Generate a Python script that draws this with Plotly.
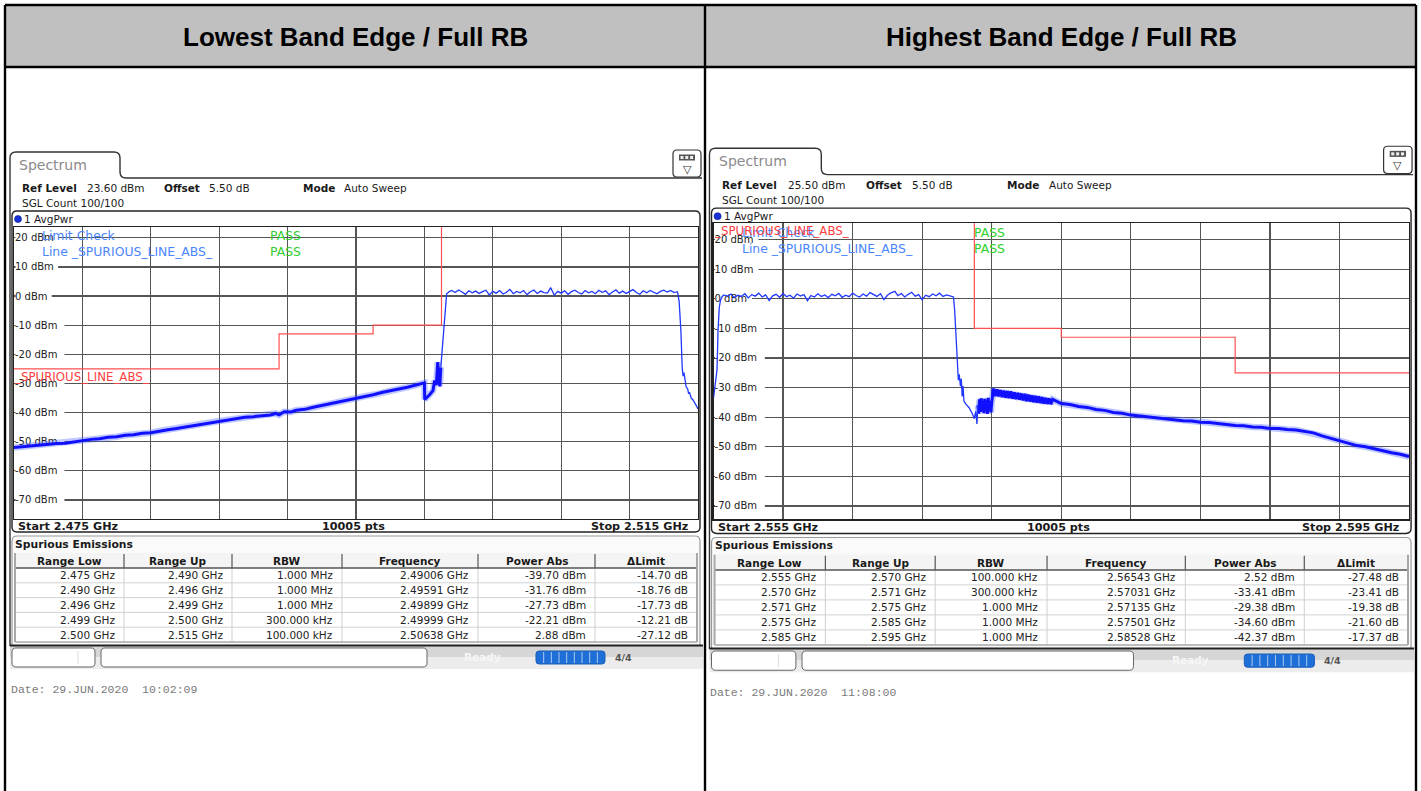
import plotly.graph_objects as go

W, H = 1421, 791

# ---------------- data ----------------
HEADERS = ["Lowest Band Edge / Full RB", "Highest Band Edge / Full RB"]
REF_LEVEL = ["23.60 dBm", "25.50 dBm"]
OFFSET = ["5.50 dB", "5.50 dB"]
MODE = ["Auto Sweep", "Auto Sweep"]
SGL_COUNT = ["100/100", "100/100"]
START_LABEL = ["Start 2.475 GHz", "Start 2.555 GHz"]
STOP_LABEL = ["Stop 2.515 GHz", "Stop 2.595 GHz"]
POINTS_LABEL = ["10005 pts", "10005 pts"]
DATE_LABEL = ["Date: 29.JUN.2020\u00a0\u00a010:02:09", "Date: 29.JUN.2020\u00a0\u00a011:08:00"]
X_RANGE = [[2.475, 2.515], [2.555, 2.595]]
X_DIV = 0.004
Y_RANGE = [[-76.4, 23.6], [-74.5, 25.5]]
Y_TICKS = [20, 10, 0, -10, -20, -30, -40, -50, -60, -70]
Y_TICK_TEXT = ["20 dBm", "10 dBm", "0 dBm", "-10 dBm", "-20 dBm", "-30 dBm", "-40 dBm", "-50 dBm", "-60 dBm", "-70 dBm"]
LIMIT_NAME = "_SPURIOUS_LINE_ABS_"

TABLE_COLS = ["Range Low", "Range Up", "RBW", "Frequency", "Power Abs", "\u0394Limit"]
L_RANGE_LOW = ["2.475 GHz", "2.490 GHz", "2.496 GHz", "2.499 GHz", "2.500 GHz"]
L_RANGE_UP = ["2.490 GHz", "2.496 GHz", "2.499 GHz", "2.500 GHz", "2.515 GHz"]
L_RBW = ["1.000 MHz", "1.000 MHz", "1.000 MHz", "300.000 kHz", "100.000 kHz"]
L_FREQ = ["2.49006 GHz", "2.49591 GHz", "2.49899 GHz", "2.49999 GHz", "2.50638 GHz"]
L_POWER = ["-39.70 dBm", "-31.76 dBm", "-27.73 dBm", "-22.21 dBm", "2.88 dBm"]
L_DLIMIT = ["-14.70 dB", "-18.76 dB", "-17.73 dB", "-12.21 dB", "-27.12 dB"]

R_RANGE_LOW = ["2.555 GHz", "2.570 GHz", "2.571 GHz", "2.575 GHz", "2.585 GHz"]
R_RANGE_UP = ["2.570 GHz", "2.571 GHz", "2.575 GHz", "2.585 GHz", "2.595 GHz"]
R_RBW = ["100.000 kHz", "300.000 kHz", "1.000 MHz", "1.000 MHz", "1.000 MHz"]
R_FREQ = ["2.56543 GHz", "2.57031 GHz", "2.57135 GHz", "2.57501 GHz", "2.58528 GHz"]
R_POWER = ["2.52 dBm", "-33.41 dBm", "-29.38 dBm", "-34.60 dBm", "-42.37 dBm"]
R_DLIMIT = ["-27.48 dB", "-23.41 dB", "-19.38 dB", "-21.60 dB", "-17.37 dB"]

# limit lines (GHz, dBm)
L_LIMIT_F = [2.475, 2.4905, 2.4905, 2.496, 2.496, 2.500, 2.500]
L_LIMIT_V = [-25, -25, -13, -13, -10, -10, 30]
R_LIMIT_F = [2.555, 2.570, 2.570, 2.575, 2.575, 2.585, 2.585, 2.595]
R_LIMIT_V = [30, 30, -10, -10, -13, -13, -25, -25]

# left trace: noisy slope part (GHz, dBm)
L_SLOPE_F = [2.4750, 2.4755, 2.4760, 2.4765, 2.4770, 2.4775, 2.4780, 2.4785, 2.4790, 2.4795,
             2.4800, 2.4805, 2.4810, 2.4815, 2.4820, 2.4825, 2.4830, 2.4835, 2.4840, 2.4845,
             2.4850, 2.4855, 2.4860, 2.4865, 2.4870, 2.4875, 2.4880, 2.4885, 2.4890, 2.4895,
             2.4900, 2.4903, 2.4905, 2.4908, 2.4912, 2.4915, 2.4920, 2.4925, 2.4930, 2.4935,
             2.4940, 2.4945, 2.4950, 2.4955, 2.4960, 2.4965, 2.4970, 2.4975, 2.4980, 2.4985,
             2.4990, 2.49902, 2.49915, 2.4993, 2.4995, 2.4996, 2.4997, 2.49978, 2.49985, 2.4999,
             2.49996]
L_SLOPE_V = [-52.0, -51.7, -51.6, -51.2, -51.0, -50.6, -50.5, -50.0, -49.7, -49.2,
             -49.0, -48.5, -48.3, -47.8, -47.6, -47.1, -46.9, -46.3, -45.9, -45.5,
             -45.0, -44.4, -44.0, -43.4, -42.9, -42.5, -42.1, -41.6, -41.4, -41.0,
             -40.8, -40.3, -40.8, -39.7, -39.8, -39.2, -38.9, -38.2, -37.6, -36.8,
             -36.4, -35.6, -35.0, -34.4, -33.9, -33.1, -32.6, -31.9, -31.3, -30.5,
             -29.8, -35.5, -34.8, -33.9, -32.5, -29.0, -30.5, -22.7, -28.0, -31.0,
             -24.5]
# left trace: channel (flat top) and roll-off
L_TOP_F = [2.49996, 2.50010, 2.50020, 2.50030, 2.50045,
           2.5006, 2.5008, 2.5010, 2.5012, 2.5014, 2.5016, 2.5018, 2.5020, 2.5022, 2.5024,
           2.5026, 2.5028, 2.5030, 2.5032, 2.5034, 2.5036, 2.5038, 2.5040, 2.5042, 2.5044,
           2.5046, 2.5048, 2.5050, 2.5052, 2.5054, 2.5056, 2.5058, 2.5060, 2.5062, 2.50638,
           2.5066, 2.5068, 2.5070, 2.5072, 2.5074, 2.5076, 2.5078, 2.5080, 2.5082, 2.5084,
           2.5086, 2.5088, 2.5090, 2.5092, 2.5094, 2.5096, 2.5098, 2.5100, 2.5102, 2.5104,
           2.5106, 2.5108, 2.5110, 2.5112, 2.5114, 2.5116, 2.5118, 2.5120, 2.5122, 2.5124,
           2.5126, 2.5128, 2.5130, 2.5132, 2.5134, 2.5136, 2.5138,
           2.51390, 2.51400, 2.51408, 2.51413, 2.51418, 2.51425, 2.5143, 2.5144, 2.51445, 2.5145,
           2.5146, 2.5147, 2.5148, 2.5149, 2.5150]
L_TOP_V = [-24.5, -14.0, -5.5, 0.8, 1.5,
           1.9, 1.2, 2.1, 1.4, 0.6, 1.8, 1.1, 1.7, 0.9, 1.5,
           2.0, 0.4, 1.6, 1.0, 1.9, 0.7, 1.3, 2.3, 0.8, 1.6,
           1.1, 1.9, 0.5, 1.5, 2.1, 0.9, 1.7, 1.2, 1.0, 2.88,
           0.3, 1.6, 1.0, 1.8, 0.6, 1.5, 2.0, 1.2, 0.7, 1.9,
           1.1, 1.6, 0.8, 2.0, 1.3, 1.8, 0.5, 1.4, 2.1, 1.0,
           1.7, 0.9, 1.5, 2.2, 1.2, 0.6, 1.8, 1.1, 1.9, 1.3,
           0.8, 1.6, 2.0, 1.4, 1.9, 1.2, 1.5,
           -2.0, -12.0, -25.0, -27.5, -26.3, -29.5, -31.0, -32.0, -33.5, -33.0,
           -35.0, -35.6, -36.5, -37.6, -38.8]

# right trace: rise, channel (flat top) and roll-off
R_TOP_F = [2.5550, 2.55505, 2.5551, 2.55515, 2.5552, 2.55526, 2.55533, 2.5554, 2.5555, 2.5556,
           2.5558, 2.5560, 2.5562, 2.5564, 2.5566, 2.5568, 2.5570, 2.5572, 2.5574, 2.5576,
           2.5578, 2.5580, 2.5582, 2.5584, 2.5586, 2.5588, 2.5590, 2.5592, 2.5594, 2.5596,
           2.5598, 2.5600, 2.5602, 2.5604, 2.5606, 2.5608, 2.5610, 2.5612, 2.5614, 2.5616,
           2.5618, 2.5620, 2.5622, 2.5624, 2.5626, 2.5628, 2.5630, 2.5632, 2.5634, 2.5636,
           2.5638, 2.5640, 2.5642, 2.5644, 2.5646, 2.5648, 2.5650, 2.5652, 2.56543, 2.5656,
           2.5658, 2.5660, 2.5662, 2.5664, 2.5666, 2.5668, 2.5670, 2.5672, 2.5674, 2.5676,
           2.5678, 2.5680, 2.5682, 2.5684, 2.5686,
           2.5688, 2.56887, 2.56895, 2.56902, 2.56908, 2.56913, 2.5692, 2.56925, 2.5693, 2.56935,
           2.5694, 2.5695, 2.5697, 2.5699, 2.5700, 2.57008, 2.57015, 2.5702]
R_TOP_V = [-33.5, -31.0, -28.5, -26.0, -24.0, -10.5, -3.0, -0.5, 0.8, 1.3,
           0.9, 1.6, 0.4, 1.2, 0.8, 1.7, 0.3, 1.4, 0.9, 1.9,
           0.6, 1.3, -0.6, 1.0, 1.5, 0.5, 1.8, 0.7, 1.2, 0.2,
           1.6, 0.9, 1.4, -0.7, 1.1, 0.6, 1.7, 0.8, 1.3, 0.4,
           1.5, 1.0, 1.8, 0.5, 1.2, 0.7, 1.9, 1.1, 0.6, 1.6,
           0.9, 2.1, 1.3, 0.8, 1.7, -0.3, 1.2, 2.0, 2.52, 1.1,
           1.8, 0.6, 1.5, 2.2, 0.9, 1.4, -0.4, 1.2, 0.7, 1.6,
           1.0, 1.9, 0.8, 1.3, 1.0,
           0.6, -4.0, -12.0, -20.0, -27.5, -25.5, -29.5, -27.0, -33.0, -29.5,
           -34.5, -35.5, -36.8, -39.0, -40.5, -38.0, -42.3, -36.0]
# right trace: noisy spurious part
R_BAND_F = [2.5702, 2.57025, 2.5703, 2.57035, 2.5704, 2.57045, 2.5705, 2.57055, 2.5706, 2.57065,
            2.5707, 2.57075, 2.5708, 2.57085, 2.5709, 2.57095, 2.5710,
            2.5711, 2.5712, 2.5713, 2.5714, 2.5715, 2.5716, 2.5717, 2.5718, 2.5719, 2.5720,
            2.5721, 2.5722, 2.5723, 2.5724, 2.5725, 2.5726, 2.5727, 2.5728, 2.5729, 2.5730,
            2.5731, 2.5732, 2.5733, 2.5734, 2.5735, 2.5736, 2.5737, 2.5738, 2.5739, 2.5740,
            2.5741, 2.5742, 2.5743, 2.5744, 2.5745,
            2.5750, 2.5755, 2.5760, 2.5765, 2.5770, 2.5775, 2.5780, 2.5785, 2.5790, 2.5795,
            2.5800, 2.5805, 2.5810, 2.5815, 2.5820, 2.5825, 2.5830, 2.5835, 2.5840, 2.5845,
            2.5850, 2.5855, 2.5860, 2.5865, 2.5870, 2.5875, 2.5880, 2.5885, 2.5890, 2.5895,
            2.5900, 2.5905, 2.5910, 2.5915, 2.5920, 2.5925, 2.5930, 2.5935, 2.5940, 2.5945,
            2.5950]
R_BAND_V = [-36.0, -38.8, -34.0, -38.2, -33.6, -37.9, -34.5, -38.6, -33.8, -37.5,
            -34.2, -38.9, -33.5, -37.8, -34.6, -38.4, -35.0,
            -30.3, -32.9, -30.6, -33.0, -30.9, -33.2, -31.0, -33.4, -31.2, -33.6,
            -31.3, -33.7, -31.6, -33.9, -31.8, -34.1, -32.0, -34.3, -32.1, -34.6,
            -32.4, -34.7, -32.6, -34.9, -32.8, -35.1, -33.0, -35.2, -33.2, -35.4,
            -33.5, -35.5, -33.7, -35.6, -34.0,
            -35.4, -35.7, -36.4, -36.7, -37.4, -37.7, -38.4, -38.7, -39.3, -39.6,
            -40.1, -40.3, -40.7, -40.8, -41.2, -41.3, -41.7, -41.8, -42.2, -42.4,
            -42.8, -42.9, -43.3, -43.4, -43.8, -43.8, -44.2, -44.3, -44.8, -45.3,
            -46.3, -47.1, -48.1, -48.8, -49.6, -50.0, -50.7, -51.3, -52.0, -52.5,
            -53.3]

PANELS = [
    dict(limit=(L_LIMIT_F, L_LIMIT_V), band=(L_SLOPE_F, L_SLOPE_V), top=(L_TOP_F, L_TOP_V),
         table=[L_RANGE_LOW, L_RANGE_UP, L_RBW, L_FREQ, L_POWER, L_DLIMIT], limit_label=(12.5, 376.5)),
    dict(limit=(R_LIMIT_F, R_LIMIT_V), band=(R_BAND_F, R_BAND_V), top=(R_TOP_F, R_TOP_V),
         table=[R_RANGE_LOW, R_RANGE_UP, R_RBW, R_FREQ, R_POWER, R_DLIMIT], limit_label=(13, 233.6)),
]

# ---------------- geometry helpers ----------------
TF = [(1.0, 0.0, 1.0, 0.0), (1.0168, 699.3, 1.0135, -5.75)]
PLOT_TOP = [227.3, 223.3]
PLOT_BOT = [518.6, 519.3]
PLOT_W = 684.0
SANS = "DejaVu Sans"


def X(p, x):
    return (TF[p][1] + TF[p][0] * x) / W


def Y(p, y):
    return 1 - (TF[p][3] + TF[p][2] * y) / H


shapes, anns = [], []


def line(p, x1, y1, x2, y2, color="#000", w=1.0, layer="above"):
    shapes.append(dict(type="line", xref="paper", yref="paper", x0=X(p, x1), y0=Y(p, y1),
                       x1=X(p, x2), y1=Y(p, y2), line=dict(color=color, width=w), layer=layer))


def rect(p, x1, y1, x2, y2, fill=None, lc=None, lw=1.0, layer="above"):
    shapes.append(dict(type="rect", xref="paper", yref="paper", x0=X(p, x1), y0=Y(p, y1),
                       x1=X(p, x2), y1=Y(p, y2), fillcolor=fill or "rgba(0,0,0,0)",
                       line=dict(color=lc or "rgba(0,0,0,0)", width=lw if lc else 0), layer=layer))


def pt(p, x, y):
    return f"{X(p, x):.6f},{Y(p, y):.6f}"


def rrect(p, x1, y1, x2, y2, r, fill=None, lc="#333", lw=1.0, corners=(1, 1, 1, 1), layer="above"):
    tl, tr, br, bl = [r * c for c in corners]
    d = (f"M {pt(p, x1 + tl, y1)} L {pt(p, x2 - tr, y1)} Q {pt(p, x2, y1)} {pt(p, x2, y1 + tr)} "
         f"L {pt(p, x2, y2 - br)} Q {pt(p, x2, y2)} {pt(p, x2 - br, y2)} "
         f"L {pt(p, x1 + bl, y2)} Q {pt(p, x1, y2)} {pt(p, x1, y2 - bl)} "
         f"L {pt(p, x1, y1 + tl)} Q {pt(p, x1, y1)} {pt(p, x1 + tl, y1)} Z")
    shapes.append(dict(type="path", xref="paper", yref="paper", path=d,
                       fillcolor=fill or "rgba(0,0,0,0)", line=dict(color=lc, width=lw), layer=layer))


def text(p, x, y, s, size=10.5, color="#1a1a1a", bold=False, anchor="left", family=SANS, bg=None):
    anns.append(dict(x=X(p, x), y=Y(p, y), xref="paper", yref="paper",
                     text=f"<b>{s}</b>" if bold else s, showarrow=False, xanchor=anchor,
                     yanchor="middle", font=dict(size=size, color=color, family=family),
                     bgcolor=bg, borderpad=0))


# ---------------- page table ----------------
rect(0, 5, 5, 1416, 67, fill="#c0c0c0", layer="below")
for (x1, y1, x2, y2) in [(5, 5, 1416, 5), (5, 67, 1416, 67), (5, 5, 5, 791), (1416, 5, 1416, 791), (705, 5, 705, 791)]:
    line(0, x1, y1, x2, y2, "#000", 2.4)
text(0, 355, 37, HEADERS[0], size=26, color="#000", bold=True, anchor="center", family="Liberation Sans")
text(0, 1061, 37, HEADERS[1], size=26, color="#000", bold=True, anchor="center", family="Liberation Sans")

fig = go.Figure()
COL_SEP = [15, 124, 232, 342, 478, 595, 697]
ROW_Y = [553, 568, 582.8, 597.6, 612.4, 627.2, 642]

for p, P in enumerate(PANELS):
    xs = "x" if p == 0 else "x2"
    ys = "y" if p == 0 else "y2"
    # traces
    fig.add_trace(go.Scatter(x=P["limit"][0], y=P["limit"][1], mode="lines", xaxis=xs, yaxis=ys,
                             line=dict(color="#ff5050", width=1.2), hoverinfo="skip", showlegend=False))
    fig.add_trace(go.Scatter(x=P["band"][0], y=P["band"][1], mode="lines", xaxis=xs, yaxis=ys,
                             line=dict(color="rgba(70,95,255,0.35)", width=6.5), hoverinfo="skip", showlegend=False))
    fig.add_trace(go.Scatter(x=P["band"][0], y=P["band"][1], mode="lines", xaxis=xs, yaxis=ys,
                             line=dict(color="#1010ff", width=3.0), hoverinfo="skip", showlegend=False))
    fig.add_trace(go.Scatter(x=P["top"][0], y=P["top"][1], mode="lines", xaxis=xs, yaxis=ys,
                             line=dict(color="#2038ff", width=1.3), hoverinfo="skip", showlegend=False))

    # white boxes behind the inside y labels (between grid and traces)
    span = X_RANGE[p][1] - X_RANGE[p][0]
    for v, lab in zip(Y_TICKS, Y_TICK_TEXT):
        shapes.append(dict(type="rect", xref=xs, yref=ys, layer="between",
                           x0=X_RANGE[p][0] + span * 1.5 / PLOT_W,
                           x1=X_RANGE[p][0] + span * (len(lab) * 6.35 + 6) / PLOT_W,
                           y0=v - 2.0, y1=v + 2.0, fillcolor="#ffffff", line=dict(width=0)))

    # tab + panel outline
    d = (f"M {pt(p, 10, 646)} L {pt(p, 10, 158)} Q {pt(p, 10, 152)} {pt(p, 16, 152)} "
         f"L {pt(p, 114, 152)} Q {pt(p, 120, 152)} {pt(p, 120, 158)} L {pt(p, 120, 172)} "
         f"Q {pt(p, 120, 178)} {pt(p, 126, 178)} L {pt(p, 702, 178)}")
    shapes.append(dict(type="path", xref="paper", yref="paper", path=d, line=dict(color="#333", width=1.4)))
    text(p, 18, 165, "Spectrum", size=14, color="#8a8a8a")
    # icon
    rrect(p, 673, 150, 701, 177, 4, fill="#fff", lc="#333", lw=1.2)
    rect(p, 679, 154.5, 695, 160.5, fill="#555")
    for k in range(3):
        rect(p, 680.5 + k * 4.8, 156, 683.5 + k * 4.8, 159, fill="#eee")
    text(p, 687, 169, "\u25bd", size=11, color="#333", anchor="center")

    # settings lines
    text(p, 21, 188, "Ref Level", bold=True)
    text(p, 86, 188, REF_LEVEL[p])
    text(p, 163, 188, "Offset", bold=True)
    text(p, 208, 188, OFFSET[p])
    text(p, 302, 188, "Mode", bold=True)
    text(p, 343, 188, MODE[p])
    text(p, 21, 203, "SGL Count " + SGL_COUNT[p])

    # plot box
    rrect(p, 12, 211, 700, 532, 5, lc="#222", lw=1.4)
    shapes.append(dict(type="circle", xref="paper", yref="paper", x0=X(p, 14.5), x1=X(p, 21.5),
                       y0=Y(p, 215.5), y1=Y(p, 222.5), fillcolor="#1830d8", line=dict(color="#0a1a90", width=0.6)))
    text(p, 23, 219, "1 AvgPwr")

    # limit check texts
    text(p, 41, 235.5, "Limit Check", color="#4a86ff", size=12.4)
    text(p, 41, 251, "Line " + LIMIT_NAME, color="#4a86ff", size=12.4)
    text(p, 269, 235.5, "PASS", color="#2fd02f", size=12.4)
    text(p, 269, 251, "PASS", color="#2fd02f", size=12.4)
    text(p, P["limit_label"][0], P["limit_label"][1], LIMIT_NAME, color="#ff4040", size=11.8)

    # start / stop row
    text(p, 17, 526, START_LABEL[p], bold=True, size=11.2)
    text(p, 353.5, 526, POINTS_LABEL[p], bold=True, anchor="center", size=11.2)
    text(p, 689, 526, STOP_LABEL[p], bold=True, anchor="right", size=11.2)

    # spurious table
    rrect(p, 12, 536, 700, 646, 5, fill="#fafafa", lc="#9a9a9a", lw=1.2, corners=(1, 1, 0, 0))
    text(p, 14, 544, "Spurious Emissions", bold=True, size=10.8)
    rect(p, COL_SEP[0], ROW_Y[0], COL_SEP[-1], ROW_Y[1], fill="#f4f4f4")
    rect(p, COL_SEP[0], ROW_Y[1], COL_SEP[-1], ROW_Y[-1], fill="#ffffff")
    for r in range(2, len(ROW_Y) - 1):
        line(p, COL_SEP[0], ROW_Y[r], COL_SEP[-1], ROW_Y[r], "#d2d2d2", 1)
    for c in range(1, len(COL_SEP) - 1):
        line(p, COL_SEP[c], ROW_Y[0] + 1, COL_SEP[c], ROW_Y[1], "#555", 1.2)
        line(p, COL_SEP[c], ROW_Y[1], COL_SEP[c], ROW_Y[-1], "#cfcfcf", 1)
    line(p, COL_SEP[0], ROW_Y[1], COL_SEP[-1], ROW_Y[1], "#555", 1.5)
    line(p, COL_SEP[0], ROW_Y[0], COL_SEP[0], ROW_Y[-1], "#a8a8a8", 2)
    line(p, COL_SEP[-1], ROW_Y[0], COL_SEP[-1], ROW_Y[-1], "#a8a8a8", 2)
    line(p, COL_SEP[0], ROW_Y[-1], COL_SEP[-1], ROW_Y[-1], "#a8a8a8", 1.5)
    for c, name in enumerate(TABLE_COLS):
        text(p, (COL_SEP[c] + COL_SEP[c + 1]) / 2, (ROW_Y[0] + ROW_Y[1]) / 2 + 0.5, name, bold=True, anchor="center")
        for r, val in enumerate(P["table"][c]):
            text(p, COL_SEP[c + 1] - 8, (ROW_Y[r + 1] + ROW_Y[r + 2]) / 2, val, anchor="right", color="#222")

    # status bar
    rect(p, 10, 646, 703, 657, fill="#d6d6d6")
    rect(p, 10, 657, 703, 669, fill="#ececec")
    line(p, 10, 645.5, 703, 645.5, "#222", 2)
    rrect(p, 12, 648, 95, 667, 4, fill="#fff", lc="#666", lw=1)
    line(p, 78, 651, 78, 664, "#ddd", 1)
    rrect(p, 101, 648, 427, 667, 4, fill="#fff", lc="#666", lw=1)
    text(p, 483, 657, "Ready", bold=True, color="#f6f6f6", anchor="center")
    rrect(p, 536, 651, 605, 664, 3, fill="#1f6fd8", lc="#1a5fb8", lw=1)
    for k in range(1, 9):
        line(p, 536 + k * 7.67, 652, 536 + k * 7.67, 663, "#cfe0f7", 0.8)
    text(p, 623, 657.5, "4/4", bold=True, color="#555", size=9.5, anchor="center")

    # date
    text(p, 10, 689, DATE_LABEL[p], size=11.5, color="#7a7a7a", family="Liberation Mono")

# ---------------- axes ----------------
xcommon = dict(showgrid=True, gridcolor="#555555", gridwidth=1.2, zeroline=False, showticklabels=False,
               ticks="", showline=True, mirror=True, linecolor="#222", linewidth=1.4, fixedrange=True)
layout_axes = {}
for p in (0, 1):
    xa = "xaxis" if p == 0 else "xaxis2"
    ya = "yaxis" if p == 0 else "yaxis2"
    layout_axes[xa] = dict(domain=[X(p, 14), X(p, 698)], range=X_RANGE[p], tick0=X_RANGE[p][0], dtick=X_DIV,
                           anchor="y" if p == 0 else "y2", **xcommon)
    layout_axes[ya] = dict(domain=[1 - PLOT_BOT[p] / H, 1 - PLOT_TOP[p] / H], range=Y_RANGE[p],
                           tickmode="array", tickvals=Y_TICKS, ticktext=Y_TICK_TEXT,
                           showticklabels=True, ticklabelposition="inside", ticks="",
                           tickfont=dict(size=10, family=SANS, color="#222"), layer="below traces",
                           showgrid=True, gridcolor="#555555", gridwidth=1.2, zeroline=False,
                           showline=True, mirror=True, linecolor="#222", linewidth=1.4, fixedrange=True,
                           anchor="x" if p == 0 else "x2")

fig.update_layout(width=W, height=H, margin=dict(l=0, r=0, t=0, b=0), paper_bgcolor="#fff",
                  plot_bgcolor="#fff", showlegend=False, shapes=shapes, annotations=anns, **layout_axes)

fig.write_html("out.html", config={"displayModeBar": False, "staticPlot": True},
               post_script="document.body.style.margin='0';document.body.style.overflow='hidden';")
